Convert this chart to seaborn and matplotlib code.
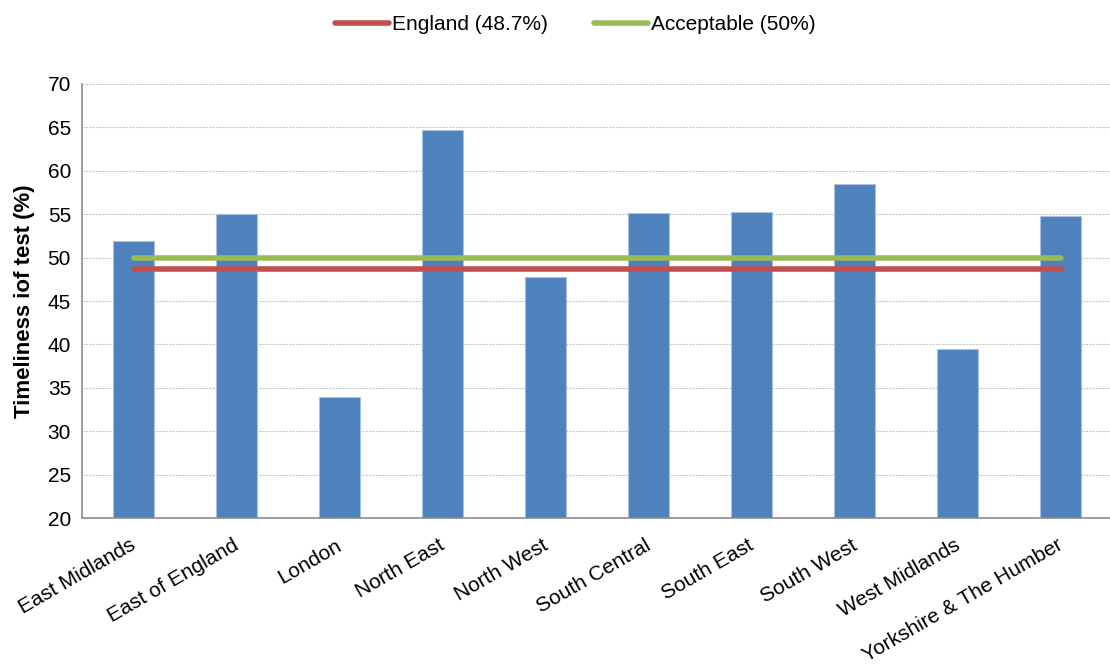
# Timeliness of test by region, bars with England / acceptable reference lines
import numpy as np
import pandas as pd
import seaborn as sns
import matplotlib.pyplot as plt
from matplotlib.lines import Line2D

regions = ["East Midlands", "East of England", "London", "North East", "North West",
           "South Central", "South East", "South West", "West Midlands",
           "Yorkshire & The Humber"]
timeliness = [51.9, 55.0, 33.9, 64.7, 47.8, 55.1, 55.2, 58.5, 39.5, 54.75]
england = 48.7
acceptable = 50.0

sns.set_style("white")
plt.rcParams["font.family"] = ["Liberation Sans", "DejaVu Sans"]
plt.rcParams["text.color"] = "black"
plt.rcParams["ytick.color"] = "black"
plt.rcParams["axes.labelcolor"] = "black"

df = pd.DataFrame({"region": regions, "timeliness": timeliness})

fig = plt.figure(figsize=(11.1, 6.66), dpi=100)
ax = fig.add_axes([0.074, 0.222, 0.928, 0.652])

sns.barplot(data=df, x="region", y="timeliness", color="#4F81BD", width=0.4,
            edgecolor="#A7C0DE", linewidth=0.8, saturation=1, ax=ax, zorder=2)

# reference lines spanning first to last category centre
n = len(regions)
ax.hlines(england, 0, n - 1, color="#C0504D", lw=4, capstyle="round", zorder=3)
ax.hlines(acceptable, 0, n - 1, color="#9BBB59", lw=4, capstyle="round", zorder=3)

ax.set_ylim(20, 70)
ax.set_xlim(-0.5, n - 0.5)
ax.set_yticks(np.arange(20, 71, 5))
ax.yaxis.grid(True, linestyle=(0, (2, 1)), color="#C8C8C8", linewidth=0.8)
ax.set_axisbelow(True)

for s in ["top", "right"]:
    ax.spines[s].set_visible(False)
for s in ["left", "bottom"]:
    ax.spines[s].set_color("#8C8C8C")
    ax.spines[s].set_linewidth(1.2)

# ticks at category boundaries like Excel
ax.set_xticks(np.arange(n + 1) - 0.5)
ax.set_xticklabels([])
ax.tick_params(axis="x", length=5, color="#8C8C8C", width=1.2)
ax.tick_params(axis="y", length=5, color="#8C8C8C", width=1.2, labelsize=15,
               labelcolor="black", pad=3)

for i, r in enumerate(regions):
    ax.text(i - 0.04, 18.0, r, rotation=30, ha="right", va="top",
            rotation_mode="anchor", fontsize=15, color="black")

ax.set_xlabel("")
ax.set_ylabel("Timeliness iof test (%)", fontsize=16, fontweight="bold", labelpad=9)

handles = [Line2D([], [], color="#C0504D", lw=4, solid_capstyle="round"),
           Line2D([], [], color="#9BBB59", lw=4, solid_capstyle="round")]
fig.legend(handles, ["England (48.7%)", "Acceptable (50%)"], loc="upper center",
           bbox_to_anchor=(0.518, 1.005), ncol=2, frameon=False, fontsize=15,
           handlelength=2.6, handletextpad=0.15, columnspacing=2.2)

fig.savefig("out.png", dpi=100)
